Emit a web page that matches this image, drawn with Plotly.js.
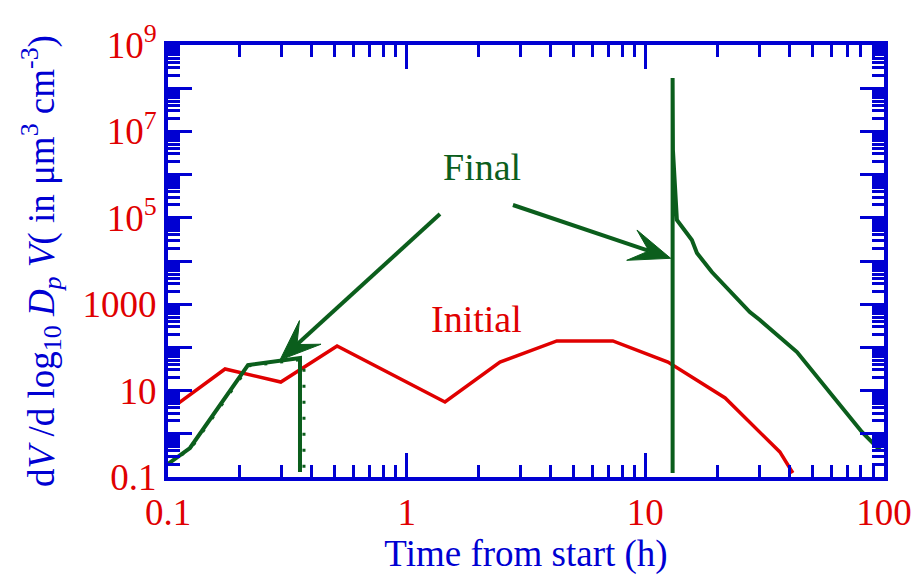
<!DOCTYPE html>
<html><head><meta charset="utf-8">
<script src="https://cdn.plot.ly/plotly-3.0.1.min.js"></script>
<style>html,body{margin:0;padding:0;background:#fff}</style>
</head><body>
<div id="chart" style="width:914px;height:578px"></div>
<script>
// ---- data ----
const initialTime = [0.11, 0.1734, 0.297, 0.511, 1.447, 2.46, 4.26, 7.31, 12.44, 21.6, 36.6, 41.5];
const initialVol  = [5.0, 31.6, 15.8, 108, 5.45, 45.9, 141, 141, 45.9, 6.74, 0.38, 0.124];

const finalTime = [0.1, 0.1236, 0.2163, 0.3573, 0.3573, null,
                   13.01, 13.01, 13.05, 13.56, 15.67, 16.45, 19.0, 27.4, 30.2, 43.2, 61.1, 80.8, 96.1];
const finalVol  = [0.2, 0.469, 39.1, 56.9, 0.13, null,
                   0.124, 1.72e8, 3.7e6, 8.9e4, 3.06e4, 1.53e4, 5.56e3, 659, 430, 78, 7.1, 1.1, 0.42];

const finalDotTime = [0.1, 0.1245, 0.219, 0.36, 0.3713, 0.3713];
const finalDotVol  = [0.2, 0.45, 37.5, 52, 48.4, 0.13];

const xTickVals = [0.1, 1, 10, 100];
const xTickText = ['0.1', '1', '10', '100'];
const yTickVals = [0.1, 1, 10, 100, 1e3, 1e4, 1e5, 1e6, 1e7, 1e8, 1e9];
const yTickText = ['0.1', '', '10', '', '1000', '', '10<sup>5</sup>', '', '10<sup>7</sup>', '', '10<sup>9</sup>'];

// arrows: from label towards curves
const arrowFromT = [1.379, 2.788];
const arrowFromV = [1.22e5, 1.98e5];
const arrowToT   = [0.2945, 12.77];
const arrowToV   = [51, 1.155e4];

// ---- style ----
const RED = '#e00000', GREEN = '#0b5e1c', BLUE = '#0000d2';
const FONT = 'Liberation Serif, Times New Roman, serif';
const X0 = -1, X1 = 2, Y0 = -1, Y1 = 9;
const W = 716, H = 432;

function minorVals(lo, hi) {
  const out = [];
  for (let e = lo; e < hi; e++) for (let k = 2; k <= 9; k++) out.push(k * Math.pow(10, e));
  return out;
}

function toPx(t, v) {
  return [(Math.log10(t) - X0) / (X1 - X0) * W, (Math.log10(v) - Y0) / (Y1 - Y0) * H];
}
const shapes = [];
for (let i = 0; i < arrowFromT.length; i++) {
  const s = toPx(arrowFromT[i], arrowFromV[i]);
  const e = toPx(arrowToT[i], arrowToV[i]);
  const dx = e[0] - s[0], dy = e[1] - s[1];
  const L = Math.hypot(dx, dy);
  const u = [dx / L, dy / L], n = [-u[1], u[0]];
  const headLen = 41, halfW = 16, notch = 23;
  const b1 = [e[0] - u[0] * headLen + n[0] * halfW, e[1] - u[1] * headLen + n[1] * halfW];
  const b2 = [e[0] - u[0] * headLen - n[0] * halfW, e[1] - u[1] * headLen - n[1] * halfW];
  const nt = [e[0] - u[0] * notch, e[1] - u[1] * notch];
  const P = p => (p[0] / W).toFixed(5) + ',' + (p[1] / H).toFixed(5);
  shapes.push({type: 'line', xref: 'paper', yref: 'paper',
    x0: s[0] / W, y0: s[1] / H, x1: nt[0] / W, y1: nt[1] / H,
    line: {color: GREEN, width: 4}});
  shapes.push({type: 'path', xref: 'paper', yref: 'paper',
    path: 'M' + P(e) + 'L' + P(b1) + 'L' + P(nt) + 'L' + P(b2) + 'Z',
    fillcolor: GREEN, line: {color: GREEN, width: 1}});
}

const traces = [
  {x: initialTime, y: initialVol, mode: 'lines', line: {color: RED, width: 3.5}, name: 'Initial'},
  {x: finalDotTime, y: finalDotVol, mode: 'lines', line: {color: GREEN, width: 3, dash: '3px,13px'}, name: 'Final (dotted)'},
  {x: finalTime, y: finalVol, mode: 'lines', line: {color: GREEN, width: 4}, connectgaps: false, name: 'Final'}
];

const axisCommon = {
  type: 'log', showgrid: false, zeroline: false,
  showline: true, linecolor: BLUE, linewidth: 4, mirror: 'allticks',
  ticks: 'inside', ticklen: 24, tickwidth: 3, tickcolor: BLUE,
  tickfont: {family: FONT, size: 37, color: RED},
  tickmode: 'array'
};

const layout = {
  width: 914, height: 578,
  margin: {l: 168, r: 30, t: 45, b: 101},
  paper_bgcolor: '#fff', plot_bgcolor: '#fff',
  showlegend: false,
  font: {family: FONT},
  xaxis: Object.assign({}, axisCommon, {
    range: [X0, X1], tickvals: xTickVals, ticktext: xTickText,
    minor: {tickmode: 'array', tickvals: minorVals(-1, 2), ticks: 'inside', ticklen: 12, tickwidth: 3, tickcolor: BLUE},
    title: {text: 'Time from start (h)', font: {family: FONT, size: 37, color: BLUE}, standoff: 0}
  }),
  yaxis: Object.assign({}, axisCommon, {
    range: [Y0, Y1], tickvals: yTickVals, ticktext: yTickText,
    minor: {tickmode: 'array', tickvals: minorVals(-1, 9), ticks: 'inside', ticklen: 12, tickwidth: 3, tickcolor: BLUE},
    title: {text: 'd<i>V</i> /d log<sub>10</sub> <i>D</i><sub><i>p</i></sub> <i>V</i>( in μm<sup>3</sup> cm<sup>-3</sup>)',
            font: {family: FONT, size: 37, color: BLUE}, standoff: 18}
  }),
  shapes: shapes,
  annotations: [
    {x: Math.log10(2.07), y: 6.176, xref: 'x', yref: 'y', text: 'Final', showarrow: false,
     font: {family: FONT, size: 38, color: GREEN}},
    {x: Math.log10(1.97), y: 2.657, xref: 'x', yref: 'y', text: 'Initial', showarrow: false,
     font: {family: FONT, size: 38, color: RED}}
  ]
};

Plotly.newPlot('chart', traces, layout, {staticPlot: true, displayModeBar: false});
</script>
</body></html>
